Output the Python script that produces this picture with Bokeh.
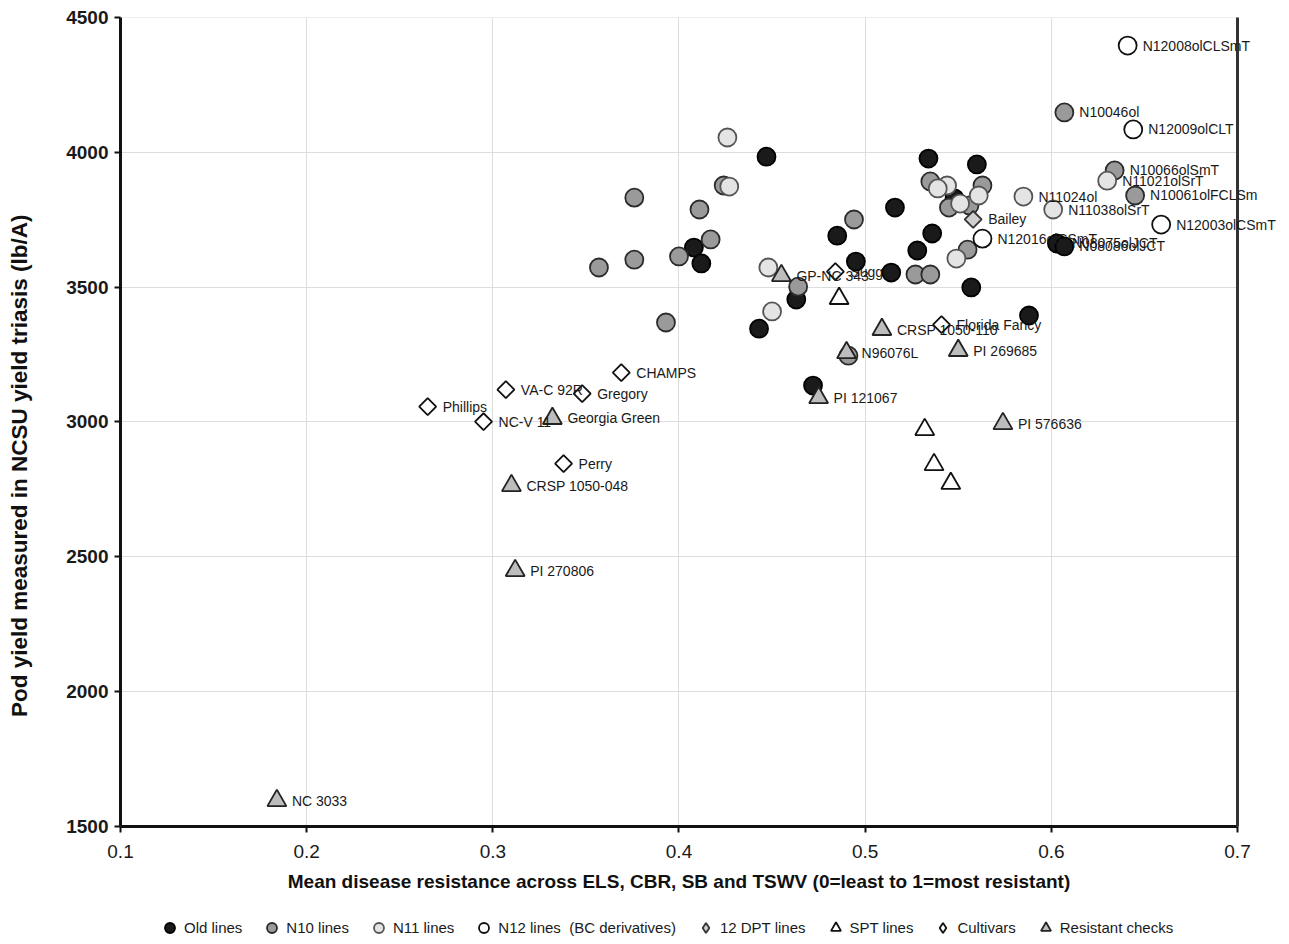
import numpy as np
from bokeh.plotting import figure
from bokeh.models import (ColumnDataSource, FixedTicker, Legend, LegendItem, LinearAxis,
                          Range1d, LabelSet, BoxAnnotation)
from bokeh.core.properties import value
from bokeh.embed import file_html
from bokeh.resources import INLINE

# ---------------- data ----------------
x_ticks = [0.1, 0.2, 0.3, 0.4, 0.5, 0.6, 0.7]
y_ticks = [1500, 2000, 2500, 3000, 3500, 4000, 4500]

old_x = [0.447, 0.516, 0.485, 0.408, 0.412, 0.495, 0.514, 0.463, 0.443, 0.534,
         0.560, 0.536, 0.528, 0.557, 0.588, 0.548, 0.603, 0.607, 0.472]
old_y = [3984, 3795, 3691, 3647, 3588, 3595, 3554, 3454, 3346, 3977,
         3955, 3699, 3636, 3499, 3395, 3829, 3662, 3651, 3135]
old_names = ["", "", "", "", "", "", "", "", "", "",
             "", "", "", "", "", "", "N08075olJCT", "N08086olJCT", ""]

n10_x = [0.376, 0.411, 0.424, 0.417, 0.400, 0.376, 0.357, 0.393, 0.464, 0.494,
         0.535, 0.563, 0.545, 0.556, 0.555, 0.527, 0.535, 0.607, 0.634, 0.645, 0.491]
n10_y = [3832, 3788, 3877, 3677, 3614, 3602, 3573, 3369, 3502, 3751,
         3892, 3877, 3795, 3803, 3639, 3547, 3547, 4148, 3933, 3840, 3246]
n10_names = ["", "", "", "", "", "", "", "", "", "",
             "", "", "", "", "", "", "", "N10046ol", "N10066olSmT", "N10061olFCLSm", ""]

n11_x = [0.426, 0.427, 0.448, 0.450, 0.544, 0.539, 0.561, 0.551, 0.549, 0.585, 0.601, 0.630]
n11_y = [4055, 3873, 3573, 3410, 3877, 3866, 3840, 3810, 3606, 3836, 3788, 3895]
n11_names = ["", "", "", "", "", "", "", "", "", "N11024ol", "N11038olSrT", "N11021olSrT"]

n12_x = [0.641, 0.644, 0.659, 0.563]
n12_y = [4396, 4085, 3732, 3680]
n12_names = ["N12008olCLSmT", "N12009olCLT", "N12003olCSmT", "N12016olCSmT"]

dpt_x = [0.558]
dpt_y = [3751]
dpt_names = ["Bailey"]

spt_x = [0.486, 0.532, 0.537, 0.546]
spt_y = [3458, 2972, 2842, 2772]
spt_names = ["", "", "", ""]

cult_x = [0.265, 0.307, 0.348, 0.369, 0.295, 0.338, 0.484, 0.541]
cult_y = [3057, 3120, 3105, 3183, 3001, 2846, 3558, 3361]
cult_names = ["Phillips", "VA-C 92R", "Gregory", "CHAMPS", "NC-V 11", "Perry",
              "Sugg", "Florida Fancy"]

chk_x = [0.455, 0.509, 0.490, 0.550, 0.475, 0.574, 0.332, 0.310, 0.312, 0.184]
chk_y = [3543, 3343, 3257, 3265, 3090, 2994, 3013, 2764, 2449, 1596]
chk_names = ["GP-NC 343", "CRSP 1050-110", "N96076L", "PI 269685", "PI 121067",
             "PI 576636", "Georgia Green", "CRSP 1050-048", "PI 270806", "NC 3033"]

FONT = "Liberation Sans"
X_MIN, X_MAX = 0.1, 0.7
Y_MIN, Y_MAX = 1500, 4500
# the frame spans the whole canvas; the plotting box (axes) sits inside it
X_LEFT, X_RIGHT = 0.035542, 0.727932
Y_BOTTOM, Y_TOP = 1062.42, 4563.04
NBSP = "\u00a0"

p = figure(frame_width=1289, frame_height=944,
           x_range=Range1d(X_LEFT, X_RIGHT), y_range=Range1d(Y_BOTTOM, Y_TOP),
           output_backend="svg", toolbar_location=None,
           min_border_left=0, min_border_right=0, min_border_top=0,
           min_border_bottom=0, background_fill_color="white",
           border_fill_color="white")
p.outline_line_color = None

for ax in (p.xaxis, p.yaxis):
    ax.axis_line_width = 3
    ax.axis_line_color = "#111111"
    ax.major_tick_line_width = 2
    ax.major_tick_line_color = "#111111"
    ax.major_tick_out = 6
    ax.major_tick_in = 0
    ax.minor_tick_line_color = None
    ax.major_label_text_font = FONT
    ax.major_label_text_color = "#1a1a1a"
    ax.axis_label_text_font = FONT
    ax.axis_label_text_font_style = "bold"
    ax.axis_label_text_color = "#111111"

p.xaxis.fixed_location = Y_MIN
p.yaxis.fixed_location = X_MIN
p.xaxis.bounds = (X_MIN, X_MAX)
p.yaxis.bounds = (Y_MIN, Y_MAX)
p.xaxis.ticker = FixedTicker(ticks=x_ticks)
p.yaxis.ticker = FixedTicker(ticks=y_ticks)
p.xaxis.major_label_text_font_size = "19px"
p.yaxis.major_label_text_font_size = "19px"
p.yaxis.major_label_text_font_style = "bold"
p.xaxis.major_label_standoff = 13
p.yaxis.major_label_standoff = 6

p.xaxis.axis_label = "Mean disease resistance across ELS, CBR, SB and TSWV (0=least to 1=most resistant)"
p.xaxis.axis_label_text_font_size = "19px"
p.xaxis.axis_label_standoff = 9

# trailing no-break spaces shift the visible label down along the axis
p.yaxis.axis_label = "Pod yield measured in NCSU yield triasis (lb/A)" + NBSP * 14
p.yaxis.axis_label_text_font_size = "22.5px"
p.yaxis.axis_label_standoff = 31

p.xgrid.ticker = FixedTicker(ticks=x_ticks)
p.ygrid.ticker = FixedTicker(ticks=y_ticks)
p.grid.grid_line_color = "#dddddd"
p.grid.grid_line_width = 1

# blank the areas outside the plotting box (labels / legend live there)
for box in (BoxAnnotation(left=X_MAX), BoxAnnotation(right=X_MIN),
            BoxAnnotation(top=Y_MIN), BoxAnnotation(bottom=Y_MAX)):
    box.fill_color = "white"
    box.fill_alpha = 1.0
    box.line_color = None
    box.level = "underlay"
    p.add_layout(box)

series = [
    ("Old lines", old_x, old_y, old_names, "circle", 18, "#1a1a1a", "#000000", 0),
    ("N10 lines", n10_x, n10_y, n10_names, "circle", 18, "#9a9a9a", "#2b2b2b", 0),
    ("N11 lines", n11_x, n11_y, n11_names, "circle", 18, "#e4e4e4", "#555555", 0),
    ("N12 lines  (BC derivatives)", n12_x, n12_y, n12_names, "circle", 18, "#ffffff", "#111111", 0),
    ("12 DPT lines", dpt_x, dpt_y, dpt_names, "square", 12, "#cfcfcf", "#333333", np.pi / 4),
    ("SPT lines", spt_x, spt_y, spt_names, "triangle", 19, "#ffffff", "#111111", 0),
    ("Cultivars", cult_x, cult_y, cult_names, "square", 12, "#ffffff", "#111111", np.pi / 4),
    ("Resistant checks", chk_x, chk_y, chk_names, "triangle", 19, "#bdbdbd", "#222222", 0),
]

items = []
lab_x, lab_y, lab_t = [], [], []
for name, xs, ys, names, marker, size, fill, line, ang in series:
    src = ColumnDataSource(dict(x=xs, y=ys))
    leg_r = None
    if ang:
        # upright diamond underneath (fully covered by the rotated square);
        # it supplies the legend swatch, since legend swatches are not rotated
        leg_r = p.scatter("x", "y", source=src, marker="diamond", size=size - 2,
                          fill_color=fill, line_color=line, line_width=1.8)
    r = p.scatter("x", "y", source=src, marker=marker, size=size, angle=ang,
                  fill_color=fill, line_color=line, line_width=1.8)
    items.append(LegendItem(label=name, renderers=[leg_r if leg_r is not None else r]))
    for xv, yv, t in zip(xs, ys, names):
        if t:
            lab_x.append(xv)
            lab_y.append(yv)
            lab_t.append(t)

lsrc = ColumnDataSource(dict(x=lab_x, y=lab_y, t=lab_t))
labels = LabelSet(x="x", y="y", text="t", source=lsrc, x_offset=15,
                  text_baseline="middle", text_align="left", text_font=value(FONT),
                  text_font_size="14px", text_color="#1a1a1a")
p.add_layout(labels)

# right-hand border of the plotting box
rborder = LinearAxis(fixed_location=X_MAX, bounds=(Y_MIN, Y_MAX),
                     ticker=FixedTicker(ticks=[]), major_label_text_font_size="0px",
                     axis_line_width=3, axis_line_color="#333333",
                     major_tick_line_color=None, minor_tick_line_color=None)
p.add_layout(rborder, "right")

legend = Legend(items=items, orientation="horizontal", location=(157, 4),
                glyph_width=25, glyph_height=25, label_standoff=2, spacing=17,
                padding=2, margin=0, border_line_color=None,
                background_fill_alpha=0, label_text_font=FONT,
                label_text_font_size="15px", label_text_color="#1a1a1a")
p.add_layout(legend)

open("out.html", "w").write(file_html(p, INLINE))
